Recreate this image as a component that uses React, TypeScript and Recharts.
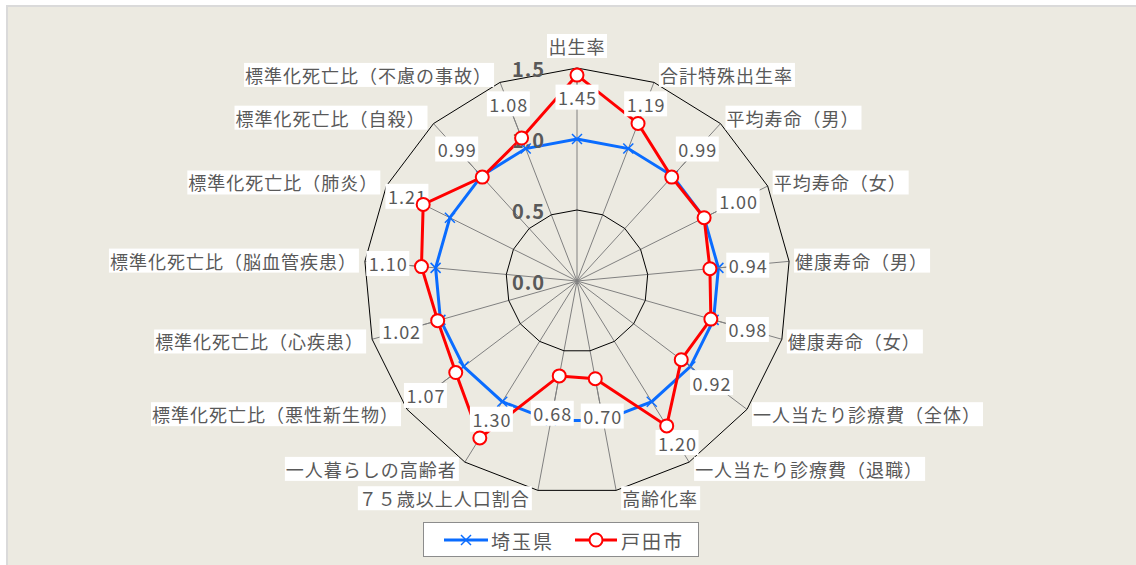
import React from 'react';
import {
  RadarChart,
  Radar,
  PolarGrid,
  PolarAngleAxis,
  PolarRadiusAxis,
  Legend,
} from 'recharts';

const categories = [
  '出生率',
  '合計特殊出生率',
  '平均寿命（男）',
  '平均寿命（女）',
  '健康寿命（男）',
  '健康寿命（女）',
  '一人当たり診療費（全体）',
  '一人当たり診療費（退職）',
  '高齢化率',
  '７５歳以上人口割合',
  '一人暮らしの高齢者',
  '標準化死亡比（悪性新生物）',
  '標準化死亡比（心疾患）',
  '標準化死亡比（脳血管疾患）',
  '標準化死亡比（肺炎）',
  '標準化死亡比（自殺）',
  '標準化死亡比（不慮の事故）',
];
const saitamaValues = [1.0, 1.0, 1.0, 1.0, 1.0, 1.0, 1.0, 1.0, 1.0, 1.0, 1.0, 1.0, 1.0, 1.0, 1.0, 1.0, 1.0];
const todaValues = [1.45, 1.19, 0.99, 1.0, 0.94, 0.98, 0.92, 1.2, 0.7, 0.68, 1.3, 1.07, 1.02, 1.1, 1.21, 0.99, 1.08];
const seriesNames = ['埼玉県', '戸田市'];
const radiusDomain = [0, 1.5];

const data = categories.map((name, i) => ({
  name,
  saitama: saitamaValues[i],
  toda: todaValues[i],
}));

const W = 1128;
const H = 558;
const CX = 569;
const CY = 274;
const R = 213;
const FONT = '"Noto Sans CJK JP", "Noto Sans", sans-serif';
const TEXT = '#595959';
const BLUE = '#0A6CFF';
const RED = '#FF0000';

let ctx: CanvasRenderingContext2D | null = null;
function textWidth(s: string, size: number, weight: string, spacing: number) {
  if (!ctx && typeof document !== 'undefined') {
    ctx = document.createElement('canvas').getContext('2d');
  }
  if (ctx) {
    ctx.font = `${weight} ${size}px ${FONT}`;
    return ctx.measureText(s).width + spacing * s.length;
  }
  return s.length * size;
}

const angleOf = (i: number) => ((90 - (i * 360) / categories.length) * Math.PI) / 180;

const CategoryTick = (props: any) => {
  const label = props.payload?.value as string;
  const i = categories.indexOf(label);
  const a = angleOf(i);
  const c = Math.cos(a);
  const s = Math.sin(a);
  const vx = CX + R * c;
  const vy = CY - R * s;
  let anchor: 'start' | 'end' | 'middle' = 'middle';
  let x = vx;
  let y = vy - 22;
  if (Math.abs(c) > 0.05) {
    anchor = c > 0 ? 'start' : 'end';
    x = c > 0 ? vx + 6 : vx - 7;
    y = vy - 8 * s;
  }
  const w = textWidth(label, 18, 'normal', 1) + 3;
  const bx = anchor === 'start' ? x - 1 : anchor === 'end' ? x - w + 1 : x - w / 2;
  return (
    <g>
      <rect x={bx} y={y - 12} width={w} height={24} fill="#ffffff" />
      <text
        x={anchor === 'end' ? x - 1 : x}
        y={y}
        textAnchor={anchor}
        dominantBaseline="central"
        fontFamily={FONT}
        fontSize={18}
        letterSpacing={1}
        fill={TEXT}
      >
        {label}
      </text>
    </g>
  );
};

const RadiusTick = (props: any) => {
  const v = Number(props.payload?.value);
  const y = CY - (R * v) / radiusDomain[1];
  return (
    <text
      x={CX - 32}
      y={y}
      textAnchor="end"
      dominantBaseline="central"
      fontFamily={FONT}
      fontSize={20}
      fontWeight="bold"
      letterSpacing={1}
      fill={TEXT}
    >
      {v.toFixed(1)}
    </text>
  );
};

const BlueCross = (props: any) => {
  const { cx, cy } = props;
  return (
    <g>
      <line x1={cx - 5} y1={cy - 5} x2={cx + 5} y2={cy + 5} stroke={BLUE} strokeWidth={1.5} />
      <line x1={cx - 5} y1={cy + 5} x2={cx + 5} y2={cy - 5} stroke={BLUE} strokeWidth={1.5} />
    </g>
  );
};

const RedDot = (props: any) => {
  const { cx, cy, index } = props;
  const v = todaValues[index];
  const a = angleOf(index);
  const r = Math.hypot(cx - CX, cy - CY);
  const lr = v > 1.25 ? r - 22 : Math.min(r + 38, 190);
  const lx = CX + Math.cos(a) * lr;
  const ly = CY - Math.sin(a) * lr;
  const txt = v.toFixed(2);
  const w = textWidth(txt, 18, 'normal', 1) + 4;
  return (
    <g>
      <line x1={cx} y1={cy} x2={lx} y2={ly} stroke="#808080" strokeWidth={1} />
      <rect x={lx - w / 2} y={ly - 12.5} width={w} height={25} fill="#ffffff" />
      <text
        x={lx + 0.5}
        y={ly}
        textAnchor="middle"
        dominantBaseline="central"
        fontFamily={FONT}
        fontSize={18}
        letterSpacing={1}
        fill={TEXT}
      >
        {txt}
      </text>
      <circle cx={cx} cy={cy} r={6.5} fill="#ffffff" stroke={RED} strokeWidth={2} />
    </g>
  );
};

const LegendBox = () => (
  <div
    style={{
      boxSizing: 'border-box',
      width: 276,
      height: 35,
      border: '1px solid #8c8c8c',
      background: '#ffffff',
    }}
  >
    <svg width={274} height={33}>
      <line x1={20} y1={17} x2={64} y2={17} stroke={BLUE} strokeWidth={3} />
      <line x1={37} y1={12} x2={47} y2={22} stroke={BLUE} strokeWidth={1.5} />
      <line x1={37} y1={22} x2={47} y2={12} stroke={BLUE} strokeWidth={1.5} />
      <text x={67} y={17} dominantBaseline="central" fontFamily={FONT} fontSize={19} letterSpacing={2} fill={TEXT}>
        {seriesNames[0]}
      </text>
      <line x1={151} y1={17} x2={193} y2={17} stroke={RED} strokeWidth={3} />
      <circle cx={172} cy={17} r={6.5} fill="#ffffff" stroke={RED} strokeWidth={2} />
      <text x={197} y={17} dominantBaseline="central" fontFamily={FONT} fontSize={19} letterSpacing={2} fill={TEXT}>
        {seriesNames[1]}
      </text>
    </svg>
  </div>
);

export default function App() {
  return (
    <div
      style={{
        position: 'absolute',
        left: 6,
        top: 5,
        width: W,
        height: H,
        background: '#ECEAE1',
        borderTop: '2px solid #dadada',
        borderLeft: '2px solid #dadada',
      }}
    >
      <RadarChart width={W} height={H} data={data} cx={CX} cy={CY} outerRadius={R} startAngle={90} endAngle={-270}>
        <PolarGrid gridType="polygon" polarRadius={[]} stroke="#808080" strokeWidth={1} />
        <PolarGrid gridType="polygon" polarRadius={[R / 3, R]} radialLines={false} stroke="#000000" strokeWidth={1} />
        <PolarAngleAxis dataKey="name" tick={CategoryTick} tickLine={false} axisLine={false} />
        <Radar
          name={seriesNames[0]}
          dataKey="saitama"
          stroke={BLUE}
          strokeWidth={3}
          fill="none"
          fillOpacity={0}
          dot={BlueCross}
          isAnimationActive={false}
        />
        <Radar
          name={seriesNames[1]}
          dataKey="toda"
          stroke={RED}
          strokeWidth={3}
          fill="none"
          fillOpacity={0}
          dot={RedDot}
          isAnimationActive={false}
        />
        <PolarRadiusAxis
          angle={90}
          type="number"
          scale="linear"
          domain={radiusDomain}
          allowDataOverflow={true}
          allowDecimals={true}
          tickCount={4}
          axisLine={false}
          tickLine={false}
          tick={RadiusTick}
        />
        <Legend content={() => <LegendBox />} wrapperStyle={{ left: 415, top: 515, width: 276, height: 35 }} />
      </RadarChart>
    </div>
  );
}
